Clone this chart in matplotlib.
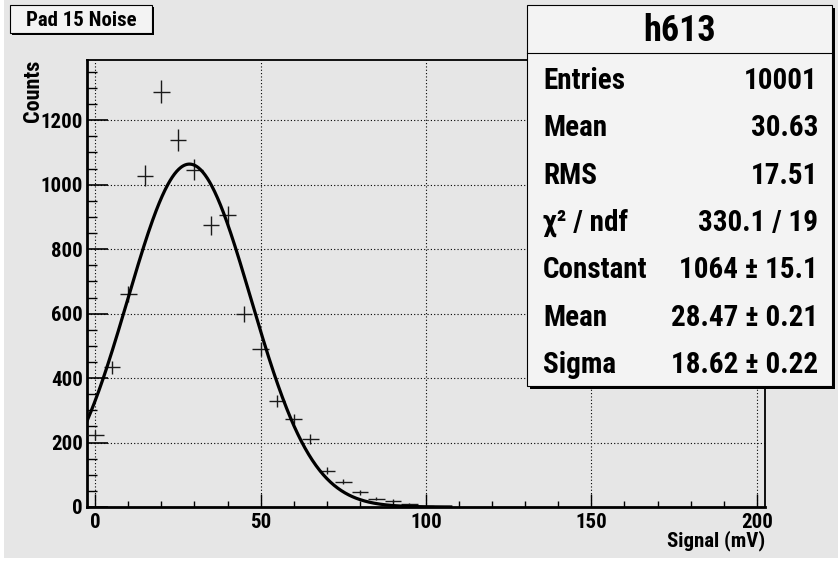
import os
import numpy as np
import matplotlib.pyplot as plt
from matplotlib import font_manager as fm
from matplotlib.font_manager import FontProperties
from matplotlib.patches import Rectangle
from matplotlib.lines import Line2D
from matplotlib.ticker import MultipleLocator

# Histogram contents (bin width 5 mV, bins centred on multiples of 5)
bin_centers = [0, 5, 10, 15, 20, 25, 30, 35, 40, 45, 50,
               55, 60, 65, 70, 75, 80, 85, 90, 95, 100]
counts = [223, 433, 661, 1028, 1289, 1139, 1046, 874, 905, 600, 491,
          330, 273, 211, 113, 79, 45, 26, 19, 9, 3]
bin_width = 5

# Gaussian fit parameters
fit_constant = 1064
fit_mean = 28.47
fit_sigma = 18.62
fit_range = (-2.5, 107.5)

title_text = "Pad 15 Noise"
stats_name = "h613"
stat_labels = ["Entries", "Mean", "RMS", "χ² / ndf", "Constant", "Mean", "Sigma"]
stat_values = ["10001", "30.63", "17.51", "330.1 / 19", "1064 ± 15.1",
               "28.47 ± 0.21", "18.62 ± 0.22"]

W, H = 838, 561
BG = "#e6e6e6"
BOX = "#f3f3f3"


def pick_narrow_bold():
    # ROOT uses a narrow bold helvetica; find the closest installed condensed bold face
    fam_rank = ["roboto", "liberation", "noto", "open", "dejavu"]
    best, best_key = None, None
    for f in fm.fontManager.ttflist:
        base = os.path.basename(f.fname).lower()
        name = f.name.lower()
        cond = ("narrow" in base or "condensed" in base or "narrow" in name
                or "condensed" in name or "condensed" in str(f.stretch))
        if not cond or "italic" in base or "oblique" in base or f.style != "normal":
            continue
        w = f.weight if isinstance(f.weight, int) else fm.weight_dict.get(f.weight, 400)
        if w < 600 or w > 800:
            continue
        fr = next((i for i, k in enumerate(fam_rank) if name.startswith(k)), 9)
        cr = 2 if ("extracond" in base or "ultracond" in base) else (1 if "semicond" in base else 0)
        key = (fr, cr, abs(w - 700))
        if best_key is None or key < best_key:
            best, best_key = f.fname, key
    return best


NARROW = pick_narrow_bold()


def font(size):
    if NARROW:
        return FontProperties(fname=NARROW, size=size)
    return FontProperties(family=["Liberation Sans", "DejaVu Sans"], weight="bold",
                          size=size * 0.85)


def fx(x):
    return x / W


def fy(y):
    return 1 - y / H


fig = plt.figure(figsize=(W / 100, H / 100), dpi=100, facecolor="white")
# pad background (thin white margin on left and bottom)
fig.patches.append(Rectangle((fx(4), fy(558)), 1 - fx(4), fy(0) - fy(558),
                             transform=fig.transFigure, facecolor=BG,
                             edgecolor="none", zorder=-5))

ax = fig.add_axes([fx(87), fy(507), fx(765) - fx(87), fy(60) - fy(507)])
ax.set_facecolor(BG)
ax.set_xlim(-2.5, 202.5)
ax.set_ylim(0, 1387)

ax.xaxis.set_major_locator(MultipleLocator(50))
ax.xaxis.set_minor_locator(MultipleLocator(10))
ax.yaxis.set_major_locator(MultipleLocator(200))
ax.yaxis.set_minor_locator(MultipleLocator(50))
ax.grid(True, which="major", color="black", linestyle=(0, (1, 2)), linewidth=0.8)
ax.set_axisbelow(True)

ax.tick_params(axis="x", which="major", direction="in", length=9.5, width=1, pad=4)
ax.tick_params(axis="x", which="minor", direction="in", length=4.5, width=1)
ax.tick_params(axis="y", which="major", direction="in", length=15, width=1.2, pad=3)
ax.tick_params(axis="y", which="minor", direction="in", length=7, width=1)
for lab in ax.get_xticklabels() + ax.get_yticklabels():
    lab.set_fontproperties(font(15))

for side in ["left", "bottom"]:
    ax.spines[side].set_linewidth(2)
for side in ["top", "right"]:
    ax.spines[side].set_linewidth(1.3)

# data points with error crosses
c = np.array(counts, dtype=float)
ax.errorbar(bin_centers, counts, xerr=bin_width / 2, yerr=np.sqrt(c),
            fmt="none", ecolor="#1a1a1a", elinewidth=1, capsize=0, zorder=3)

# fitted gaussian
xf = np.linspace(fit_range[0], fit_range[1], 500)
yf = fit_constant * np.exp(-0.5 * ((xf - fit_mean) / fit_sigma) ** 2)
ax.plot(xf, yf, color="black", linewidth=2.3, zorder=4)

# axis titles
fig.text(fx(33), fy(60), "Counts", rotation=90, ha="center", va="top",
         fontproperties=font(16))
ax.set_xlabel("Signal (mV)", loc="right", labelpad=-1, fontproperties=font(15))

# title box
tl, tt, tr, tb = 10, 5, 152, 33
fig.patches.append(Rectangle((fx(tl + 2), fy(tb + 2)), fx(tr - tl), fy(tt) - fy(tb),
                             transform=fig.transFigure, facecolor="black",
                             edgecolor="none", zorder=5))
fig.patches.append(Rectangle((fx(tl), fy(tb)), fx(tr - tl), fy(tt) - fy(tb),
                             transform=fig.transFigure, facecolor=BOX,
                             edgecolor="black", linewidth=0.8, zorder=6))
fig.text(fx((tl + tr) / 2), fy(20), title_text, ha="center", va="center",
         fontproperties=font(15), zorder=7)

# stats box
sl, st, sr, sb = 527, 5, 832, 386
fig.patches.append(Rectangle((fx(sl + 3), fy(sb + 3)), fx(sr - sl), fy(st) - fy(sb),
                             transform=fig.transFigure, facecolor="black",
                             edgecolor="none", zorder=5))
fig.patches.append(Rectangle((fx(sl), fy(sb)), fx(sr - sl), fy(st) - fy(sb),
                             transform=fig.transFigure, facecolor=BOX,
                             edgecolor="black", linewidth=0.8, zorder=6))
fig.lines.append(Line2D([fx(sl), fx(sr)], [fy(53), fy(53)], transform=fig.transFigure,
                        color="black", linewidth=0.8, zorder=7))
fig.text(fx((sl + sr) / 2), fy(31), stats_name, ha="center", va="center",
         fontproperties=font(26), zorder=7)

row_top, row_step = 81, 47.3
for i, (lab, val) in enumerate(zip(stat_labels, stat_values)):
    yy = fy(row_top + i * row_step)
    fig.text(fx(543), yy, lab, ha="left", va="center", fontproperties=font(21), zorder=7)
    fig.text(fx(818), yy, val, ha="right", va="center", fontproperties=font(21), zorder=7)

plt.savefig("out.png", dpi=100, facecolor="white")
